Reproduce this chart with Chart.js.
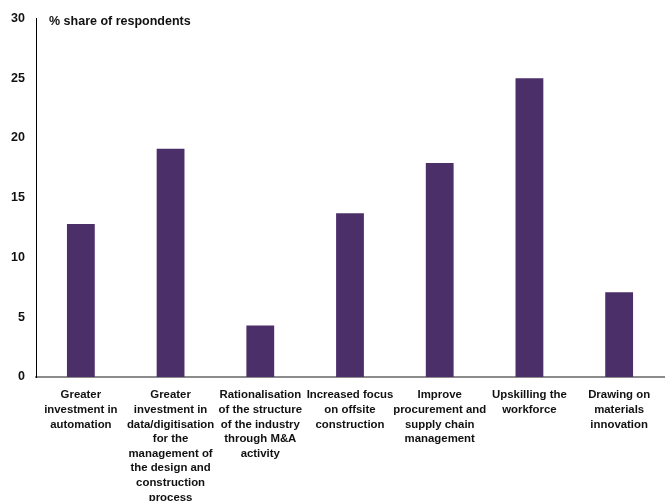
<!DOCTYPE html>
<html>
<head>
<meta charset="utf-8">
<script src="https://cdn.jsdelivr.net/npm/chart.js@4.4.0/dist/chart.umd.min.js"></script>
<style>
  html, body { margin: 0; padding: 0; background: #fff; }
  #wrap { width: 669px; height: 501px; }
</style>
</head>
<body>
<div id="wrap"><canvas id="chart" width="669" height="501"></canvas></div>
<script>
// Categories (wrapped onto several lines) and values in % of respondents
const categories = [
  ["Greater", "investment in", "automation"],
  ["Greater", "investment in", "data/digitisation", "for the", "management of", "the design and", "construction", "process"],
  ["Rationalisation", "of the structure", "of the industry", "through M&A", "activity"],
  ["Increased focus", "on offsite", "construction"],
  ["Improve", "procurement and", "supply chain", "management"],
  ["Upskilling the", "workforce"],
  ["Drawing on", "materials", "innovation"]
];
const shares = [12.8, 19.1, 4.3, 13.7, 17.9, 25.0, 7.1];
const yTicks = [0, 5, 10, 15, 20, 25, 30];

const FONT = "'Liberation Sans', Arial, sans-serif";
const PURPLE = "#4b2f69";

// axis caption drawn inside the plot, top-left
const captionPlugin = {
  id: "caption",
  afterDraw(chart) {
    const { ctx, chartArea } = chart;
    ctx.save();
    ctx.font = "bold 12.5px " + FONT;
    ctx.fillStyle = "#111";
    ctx.textBaseline = "middle";
    ctx.fillText("% share of respondents", chartArea.left + 13, chartArea.top + 3);
    ctx.restore();
  }
};

new Chart(document.getElementById("chart"), {
  type: "bar",
  data: {
    labels: categories,
    datasets: [{
      data: shares,
      backgroundColor: PURPLE,
      borderWidth: 0,
      categoryPercentage: 1,
      barPercentage: 0.31
    }]
  },
  options: {
    responsive: false,
    animation: false,
    layout: { padding: { top: 17, right: 5, left: 0, bottom: 0 } },
    plugins: { legend: { display: false }, tooltip: { enabled: false } },
    scales: {
      x: {
        grid: { display: false },
        border: { display: true, color: "#8c8c8c", width: 2 },
        ticks: {
          autoSkip: false,
          maxRotation: 0,
          padding: 3,
          color: "#111",
          font: { family: FONT, size: 11.4, weight: "bold", lineHeight: "14.6px" }
        },
        afterFit(scale) { scale.height = 124; }
      },
      y: {
        min: 0,
        max: 30,
        grid: { display: false, drawTicks: false },
        border: { display: true, color: "#000", width: 1 },
        afterBuildTicks(scale) { scale.ticks = yTicks.map(v => ({ value: v })); },
        ticks: {
          padding: 11,
          color: "#111",
          font: { family: FONT, size: 12.5, weight: "bold" }
        },
        afterFit(scale) { scale.width = 36; }
      }
    }
  },
  plugins: [captionPlugin]
});
</script>
</body>
</html>
